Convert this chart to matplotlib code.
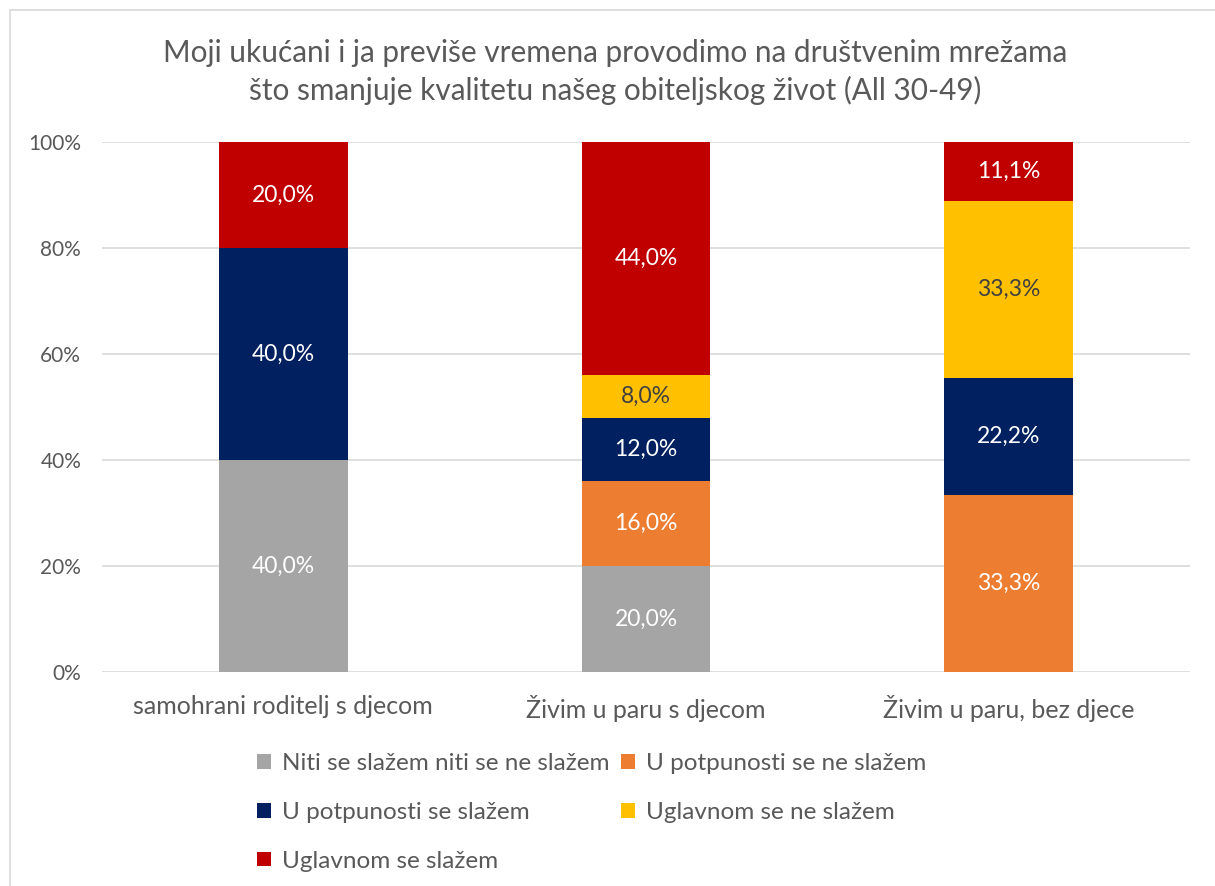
import numpy as np
import matplotlib.pyplot as plt
from matplotlib.patches import Rectangle

plt.rcParams['font.family'] = ['Lato', 'DejaVu Sans']

# Data (100% stacked, values in %)
categories = ['samohrani roditelj s djecom', 'Živim u paru s djecom', 'Živim u paru, bez djece']
series_names = ['Niti se slažem niti se ne slažem', 'U potpunosti se ne slažem',
                'U potpunosti se slažem', 'Uglavnom se ne slažem', 'Uglavnom se slažem']
niti = [40.0, 20.0, 0.0]
potpuno_ne = [0.0, 16.0, 33.3]
potpuno_da = [40.0, 12.0, 22.2]
uglavnom_ne = [0.0, 8.0, 33.3]
uglavnom_da = [20.0, 44.0, 11.1]
yticks = [0, 20, 40, 60, 80, 100]

colors = ['#A5A5A5', '#ED7D31', '#002060', '#FFC000', '#C00000']
label_colors = ['white', 'white', 'white', '#404040', 'white']
text_grey = '#595959'

fig = plt.figure(figsize=(12.15, 8.86), dpi=100)
ax = fig.add_axes([102 / 1215, 0.2415, 1088 / 1215, 0.5982])

# chart border
fig.patches.append(Rectangle((10 / 1215, -0.1), 1.2, 1.1 - 10 / 886, transform=fig.transFigure,
                             fill=False, edgecolor='#D9D9D9', linewidth=1.2))

data = np.array([niti, potpuno_ne, potpuno_da, uglavnom_ne, uglavnom_da])
shares = data / data.sum(axis=0) * 100
x = np.arange(len(categories))
bottom = np.zeros(len(categories))
handles = []
for i, name in enumerate(series_names):
    bars = ax.bar(x, shares[i], 0.355, bottom=bottom, color=colors[i], label=name, zorder=3)
    handles.append(bars)
    for j in range(len(categories)):
        if data[i, j] > 0:
            ax.text(x[j], bottom[j] + shares[i, j] / 2, '{:.1f}%'.format(data[i, j]).replace('.', ','),
                    ha='center', va='center', color=label_colors[i], fontsize=16.5, zorder=4)
    bottom += shares[i]

ax.set_xlim(-0.5, 2.5)
ax.set_ylim(0, 100)
ax.set_yticks(yticks)
ax.set_yticklabels(['{}%'.format(v) for v in yticks])
ax.set_xticks(x)
ax.set_xticklabels(categories)
ax.tick_params(axis='both', length=0, colors=text_grey)
ax.tick_params(axis='y', pad=15, labelsize=15)
ax.tick_params(axis='x', pad=16.5, labelsize=18)
ax.grid(axis='y', color='#D9D9D9', linewidth=1.2, zorder=0)
for s in ax.spines.values():
    s.set_visible(False)

fig.suptitle('Moji ukućani i ja previše vremena provodimo na društvenim mrežama\n'
             'što smanjuje kvalitetu našeg obiteljskog život (All 30-49)',
             x=0.506, y=0.956, color=text_grey, fontsize=21.4, linespacing=1.36)

# legend, column-wise order so rows read like the original
order = [0, 2, 4, 1, 3]
leg = fig.legend([handles[k] for k in order], [series_names[k] for k in order],
                 loc='upper left', bbox_to_anchor=(0.2018, 0.164), ncol=2, frameon=False,
                 fontsize=17.5, labelcolor=text_grey, handlelength=0.55, handleheight=0.55,
                 handletextpad=0.45, labelspacing=1.15, columnspacing=0.5, borderpad=0)

fig.savefig('out.png', dpi=100)
